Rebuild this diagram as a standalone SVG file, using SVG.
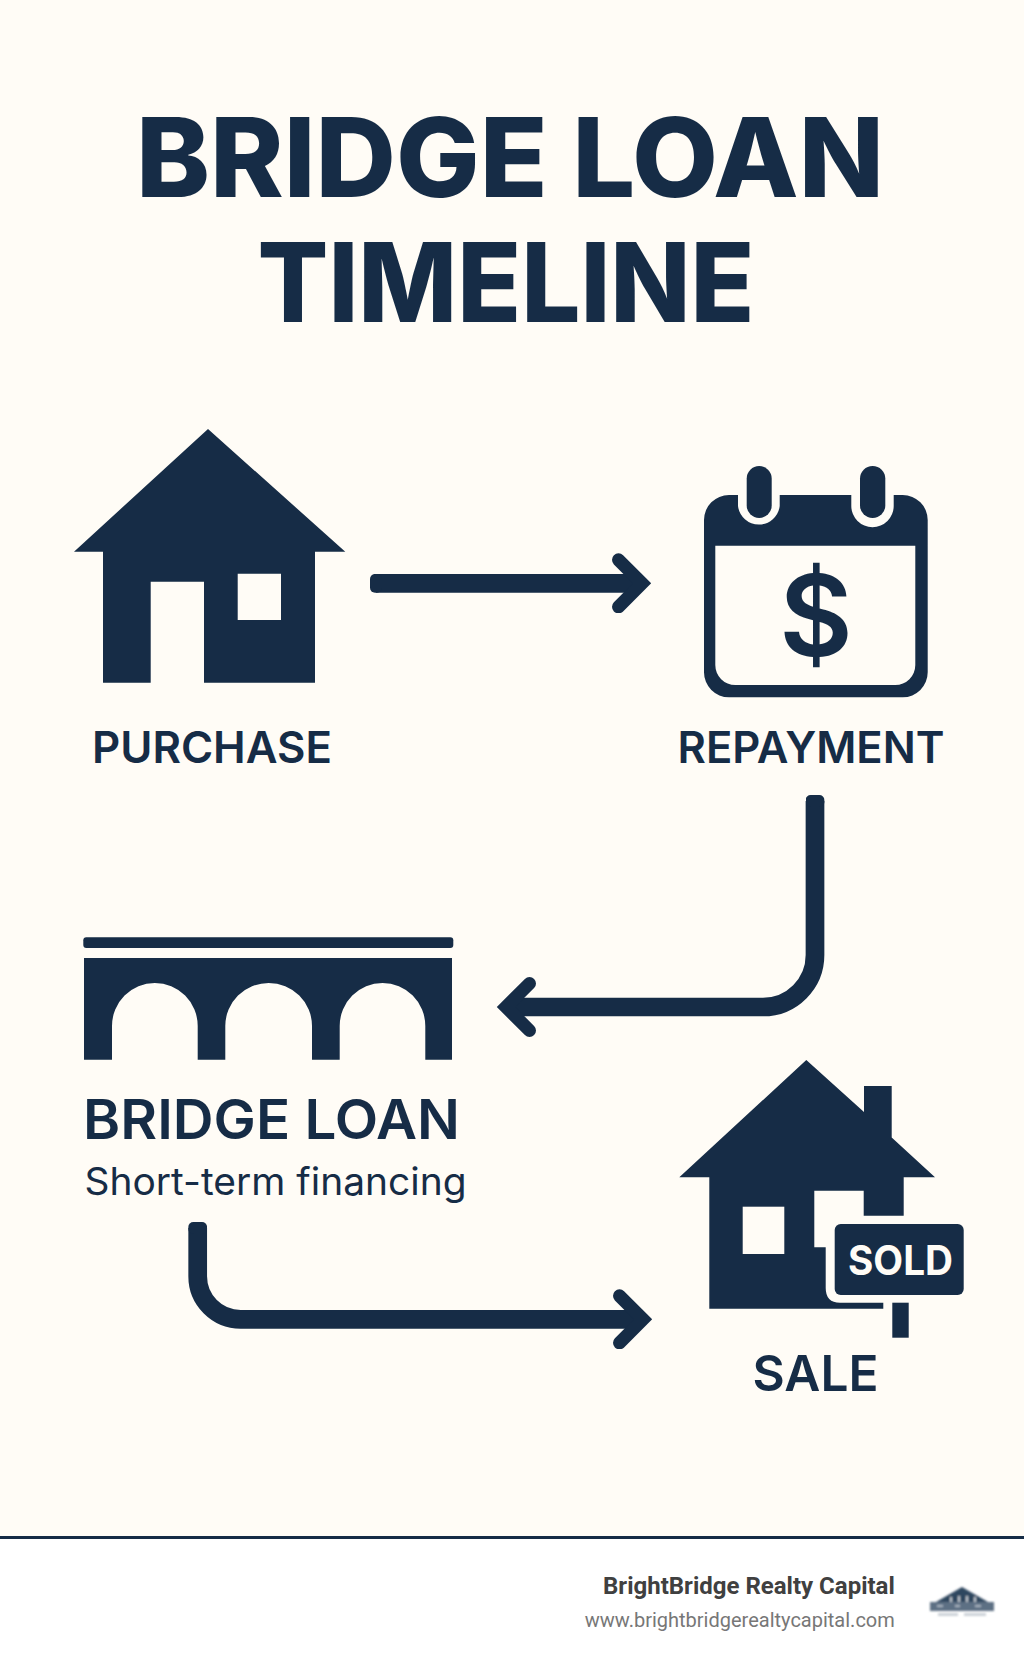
<svg xmlns="http://www.w3.org/2000/svg" width="1024" height="1666" viewBox="0 0 1024 1666">
<style>
.n{fill:#162c46}
.c{fill:none;stroke:#162c46;stroke-width:18.7;marker-start:url(#cap);marker-end:url(#head)}
.t{font-family:Inter,"Liberation Sans",sans-serif;fill:#162c46;font-weight:600}
.ti{font-weight:800;font-size:110px}
.l{font-size:44px}
.f{font-family:Roboto,"Liberation Sans",sans-serif;text-anchor:end}
</style>
<defs>
<marker id="head" markerUnits="userSpaceOnUse" viewBox="0 0 50 60" markerWidth="50" markerHeight="60" refX="28" refY="30" orient="auto"><polyline points="6.5,6.5 30,30 6.5,53.5" fill="none" stroke="#162c46" stroke-width="13" stroke-linecap="round" stroke-linejoin="miter"/></marker>
<marker id="cap" markerUnits="userSpaceOnUse" viewBox="0 0 12 19" markerWidth="12" markerHeight="19" refX="6" refY="9.5" orient="auto"><rect x="0" y="0.15" width="12" height="18.7" rx="5" fill="#162c46"/></marker>
<filter id="blur" x="-10%" y="-20%" width="120%" height="140%"><feGaussianBlur stdDeviation="0.8"/></filter>
</defs>
<rect id="background" width="1024" height="1536" fill="#fffcf6"/>
<rect id="footer-bg" y="1536" width="1024" height="130" fill="#ffffff"/>
<rect id="footer-rule" y="1536" width="1024" height="3" fill="#162c46"/>
<g id="title">
<text class="t ti" x="136" y="197" textLength="748" lengthAdjust="spacingAndGlyphs">BRIDGE LOAN</text>
<text class="t ti" x="257.500" y="321.500" textLength="497" lengthAdjust="spacingAndGlyphs">TIMELINE</text>
</g>
<g id="connectors">
<path id="arrow-purchase-repayment" class="c" d="M376 583.3H640"/>
<path id="arrow-repayment-bridge" class="c" d="M815 801V955A52 52 0 0 1 763 1007H508"/>
<path id="arrow-bridge-sale" class="c" d="M197.7 1228V1276A43 43 0 0 0 240.7 1319.3H641"/>
</g>
<g id="purchase">
<path class="n" fill-rule="evenodd" d="M208 429L345.300 551.700H315V682.700H204V581.700H150.700V682.700H103V551.700H74Z M237.700 573.700V620H281V573.700Z"/>
<text class="t l" x="92" y="763" textLength="240" lengthAdjust="spacingAndGlyphs">PURCHASE</text>
</g>
<g id="repayment">
<path class="n" fill-rule="evenodd" d="M729 495H738V506A21 21 0 0 0 779.700 506V495H851.300V506A21 21 0 0 0 893.700 506V495H902.700A25 25 0 0 1 927.700 520V672.300A25 25 0 0 1 902.700 697.300H729A25 25 0 0 1 704 672.300V520A25 25 0 0 1 729 495Z M715.300 545.700V665A20 20 0 0 0 735.300 685H895.300A20 20 0 0 0 915.300 665V545.700Z"/>
<rect class="n" x="746.700" y="466" width="25" height="52" rx="12.500"/>
<rect class="n" x="860" y="466" width="25.300" height="52" rx="12.600"/>
<text class="t" x="816" y="656" font-size="113" text-anchor="middle" style="font-weight:600">$</text>
<text class="t l" x="677.500" y="763" textLength="267" lengthAdjust="spacingAndGlyphs">REPAYMENT</text>
</g>
<g id="bridge-loan">
<rect class="n" x="83.300" y="937.300" width="370" height="10.700" rx="3"/>
<path class="n" d="M84 958H452V1059.700H425.300V1026A42.800 43 0 0 0 339.700 1026V1059.700H312V1026A43.350 43 0 0 0 225.300 1026V1059.700H197.700V1026A42.850 43 0 0 0 112 1026V1059.700H84Z"/>
<text class="t" x="83" y="1139" font-size="55" textLength="377" lengthAdjust="spacingAndGlyphs">BRIDGE LOAN</text>
<text class="t" x="84.500" y="1195" font-size="38" textLength="382" lengthAdjust="spacingAndGlyphs" style="font-weight:400">Short-term financing</text>
</g>
<g id="sale">
<path class="n" d="M806.300 1060L864 1112V1086H891.700V1137.500L935 1177.300H903.700V1215.700H863.700V1190.700H814.300V1247.300H825.700V1288Q825.700 1302.700 840 1302.700H883.300V1308.700H709.300V1177.300H679.300Z"/>
<rect x="742.700" y="1206.700" width="41.600" height="47.300" fill="#fffcf6"/>
<rect class="n" x="834.700" y="1224" width="129" height="71" rx="6"/>
<rect class="n" x="892.300" y="1302.700" width="16.400" height="35"/>
<text class="t" x="848" y="1274.500" font-size="41" textLength="105" lengthAdjust="spacingAndGlyphs" style="fill:#fffcf6;font-weight:700">SOLD</text>
<text class="t" x="752.500" y="1391" font-size="50" textLength="126" lengthAdjust="spacingAndGlyphs">SALE</text>
</g>
<g id="footer">
<text class="f" x="894.800" y="1594" font-size="24" font-weight="700" fill="#404040">BrightBridge Realty Capital</text>
<text class="f" x="894.800" y="1626.700" font-size="20" fill="#777777">www.brightbridgerealtycapital.com</text>
<g id="logo" filter="url(#blur)">
<path d="M962 1587L988 1602H936Z" fill="#2f465f"/>
<rect x="950" y="1597" width="2" height="5" fill="#c0c8d0"/>
<rect x="958" y="1596" width="2" height="6" fill="#c0c8d0"/>
<rect x="966" y="1596" width="2" height="6" fill="#c0c8d0"/>
<rect x="974" y="1597" width="2" height="5" fill="#c0c8d0"/>
<rect x="930" y="1602" width="64" height="9" fill="#5d7084"/>
<rect x="937" y="1605" width="6" height="2" fill="#a9b4bf"/>
<rect x="955" y="1605" width="5" height="2" fill="#a9b4bf"/>
<rect x="975" y="1605" width="6" height="2" fill="#a9b4bf"/>
<rect x="938" y="1613" width="20" height="3" fill="#ccd2d8"/>
<rect x="964" y="1613" width="22" height="3" fill="#ccd2d8"/>
</g>
</g>
</svg>
